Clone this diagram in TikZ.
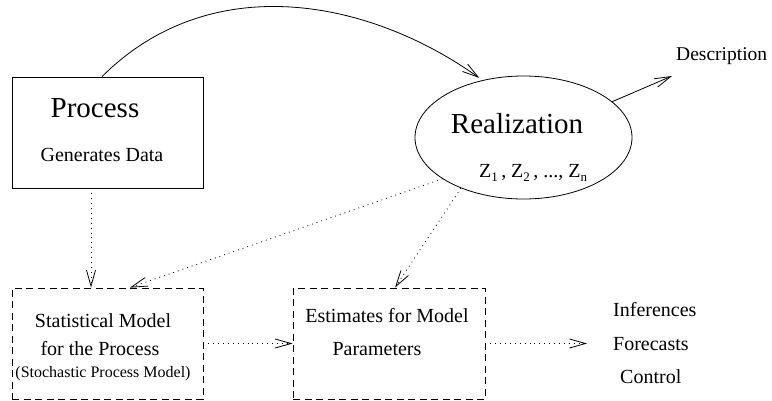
\documentclass[tikz,border=0pt]{standalone}
\usepackage{fontspec}
\setmainfont{Liberation Serif}
\usetikzlibrary{arrows.meta,shapes.geometric}
\newcommand\zsub[1]{\raisebox{-0.45ex}{\fontsize{13}{13}\selectfont #1}}
\begin{document}
\begin{tikzpicture}[x=1pt,y=-1pt,
  box/.style={draw,line width=0.8pt,inner sep=0pt,minimum width=191pt,minimum height=111pt},
  dbox/.style={box,dash pattern=on 7pt off 4.5pt},
  lbl/.style={anchor=base,inner sep=0pt,font=\fontsize{20}{24}\selectfont},
  big/.style={anchor=base,inner sep=0pt,font=\fontsize{29}{34}\selectfont},
  small/.style={anchor=base,inner sep=0pt,font=\fontsize{16}{19}\selectfont},
  solidarrow/.style={line width=0.8pt,-{Straight Barb[length=16pt,width=9pt]}},
  dotarrow/.style={line width=0.8pt,dash pattern=on 0.9pt off 4pt,-{Straight Barb[length=16pt,width=9pt]}}]
\useasboundingbox (0,0) rectangle (772,400);
% boxes
\node[box] (proc) at (107.5,132.5) {};
\node[dbox] (stat) at (107.5,343.5) {};
\node[dbox,minimum width=192pt] (est) at (389,343.5) {};
\node[draw,ellipse,line width=0.8pt,inner sep=0pt,minimum width=217pt,minimum height=123pt] (real) at (523.5,137.5) {};
% texts
\node[big] (ptxt) at (95,117) {Process};
\node[lbl] (gtxt) at (102,161) {Generates Data};
\node[big] (rtxt) at (517,133) {Realization};
\node[lbl,anchor=base west] (ztxt) at (479,177) {Z\zsub{1}\,, Z\zsub{2}\,, ..., Z\zsub{n}};
\node[lbl,anchor=base west,font=\fontsize{19.5}{23}\selectfont] (desc) at (676,60) {Description};
\node[lbl] (s1) at (103,327) {Statistical Model};
\node[lbl] (s2) at (100,355) {for the Process};
\node[small] (s3) at (103,377) {(Stochastic Process Model)};
\node[lbl] (e1) at (387,322) {Estimates for Model};
\node[lbl] (e2) at (377,355) {Parameters};
\node[lbl,anchor=base west] (inf) at (613,316) {Inferences};
\node[lbl,anchor=base west] (fc) at (613,350) {Forecasts};
\node[lbl,anchor=base west] (ctl) at (620,383) {Control};
\coordinate (descin) at (672,76);
\coordinate (fcin) at (587,343.5);
% connectors
\draw[solidarrow] ([xshift=-5.5pt]proc.north) .. controls (210.6,-31.6) and (368.7,-1) .. ([yshift=3pt]real.128);
\draw[solidarrow] (real.22) -- (descin);
\draw[dotarrow] ([xshift=-16.5pt]proc.south) -- ([xshift=-16.5pt]stat.north);
\draw[dotarrow] (real.207) -- ([xshift=22.5pt]stat.north);
\draw[dotarrow] (real.219) -- ([xshift=6pt]est.north);
\draw[dotarrow] (stat.east) -- (est.west);
\draw[dotarrow] (est.east) -- (fcin);
\end{tikzpicture}
\end{document}
